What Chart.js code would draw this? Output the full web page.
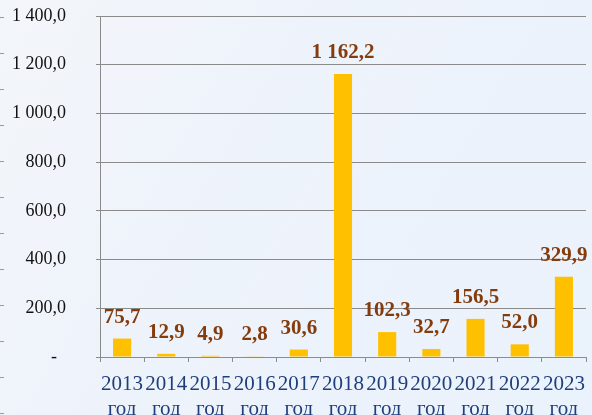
<!DOCTYPE html>
<html>
<head>
<meta charset="utf-8">
<script src="https://cdn.jsdelivr.net/npm/chart.js@4"></script>
<style>
  html, body { margin: 0; padding: 0; }
  body { width: 592px; height: 415px; overflow: hidden;
         background: linear-gradient(120deg, #f3f6fa 0%, #eef3fb 40%, #eaf2fd 100%); position: relative; }
  #wrap { position: absolute; left: 0; top: 0; width: 592px; height: 415px; }
  #edge { position: absolute; left: 0; top: 0; width: 4px; height: 415px;
          background: repeating-linear-gradient(to bottom, transparent 0px, transparent 17px, #9a9a9a 17px, #9a9a9a 18px, transparent 18px, transparent 36px); }
</style>
</head>
<body>
<div id="edge"></div>
<div id="wrap"><canvas id="c" width="592" height="415"></canvas></div>
<script>
const years = ['2013', '2014', '2015', '2016', '2017', '2018', '2019', '2020', '2021', '2022', '2023'];
const unitWord = 'год';
const values = [75.7, 12.9, 4.9, 2.8, 30.6, 1162.2, 102.3, 32.7, 156.5, 52.0, 329.9];
const yTicks = [0, 200, 400, 600, 800, 1000, 1200, 1400];

function fmt(v) {
  const s = v.toFixed(1);
  const parts = s.split('.');
  return parts[0].replace(/\B(?=(\d{3})+(?!\d))/g, ' ') + ',' + parts[1];
}

const labelPlugin = {
  id: 'barLabels',
  afterDatasetsDraw(chart) {
    const ctx = chart.ctx;
    const meta = chart.getDatasetMeta(0);
    ctx.save();
    ctx.font = 'bold 21px "Liberation Serif", "Times New Roman", serif';
    ctx.fillStyle = '#843C0C';
    ctx.textAlign = 'center';
    ctx.textBaseline = 'alphabetic';
    meta.data.forEach((bar, i) => {
      const p = bar.getProps(['x', 'y'], true);
      ctx.fillText(fmt(values[i]), p.x, p.y - 16);
    });
    ctx.restore();
  }
};

new Chart(document.getElementById('c'), {
  type: 'bar',
  data: {
    labels: years.map(y => [y, unitWord]),
    datasets: [{
      data: values,
      backgroundColor: '#FFC000',
      borderWidth: 0,
      categoryPercentage: 1.0,
      barPercentage: 0.41
    }]
  },
  options: {
    responsive: false,
    animation: false,
    devicePixelRatio: 1,
    layout: { padding: { top: 16, right: 6, left: 0, bottom: 0 } },
    plugins: { legend: { display: false }, tooltip: { enabled: false } },
    scales: {
      x: {
        grid: { display: true, drawOnChartArea: false, drawTicks: true, tickLength: 5, color: '#8c8c8c', offset: true },
        border: { color: '#8c8c8c', width: 1 },
        ticks: {
          autoSkip: false, maxRotation: 0, minRotation: 0, padding: 10,
          color: '#1F3F7A',
          font: { family: '"Liberation Serif", "Times New Roman", serif', size: 21, lineHeight: 1.2 }
        },
        afterFit(scale) { scale.height = 58; scale.paddingLeft = 0; scale.paddingRight = 0; }
      },
      y: {
        min: 0, max: 1400,
        afterBuildTicks(scale) { scale.ticks = yTicks.map(v => ({ value: v })); },
        grid: { color: '#8a8a8a', lineWidth: 1, tickLength: 4, drawTicks: true },
        border: { color: '#8a8a8a', width: 1 },
        ticks: {
          padding: 30,
          color: '#111111',
          font: { family: '"Liberation Serif", "Times New Roman", serif', size: 18 },
          callback: (v) => v === 0 ? '-\u00a0\u00a0' : fmt(v)
        },
        afterFit(scale) { scale.width = 100; scale.paddingTop = 0; scale.paddingBottom = 0; }
      }
    }
  },
  plugins: [labelPlugin]
});
</script>
</body>
</html>
